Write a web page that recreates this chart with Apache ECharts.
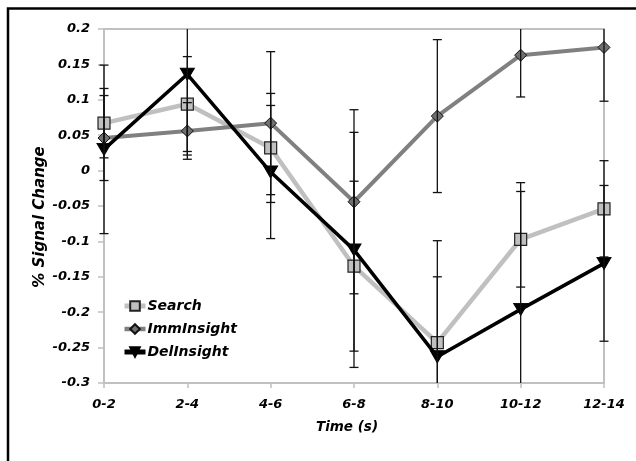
<!DOCTYPE html>
<html>
<head>
<meta charset="utf-8">
<script src="https://cdn.jsdelivr.net/npm/echarts@6/dist/echarts.min.js"></script>
<style>
html,body{margin:0;padding:0;background:#fff;}
#c{width:636px;height:461px;}
</style>
</head>
<body>
<div id="c"></div>
<script>
// ---- data ----
var categories = ['0-2', '2-4', '4-6', '6-8', '8-10', '10-12', '12-14'];
var seriesNames = ['Search', 'ImmInsight', 'DelInsight'];
var searchVals = [0.067, 0.094, 0.032, -0.135, -0.243, -0.097, -0.054];
var searchErr  = [0.049, 0.067, 0.077, 0.120, 0.144, 0.0675, 0.068];
var immVals    = [0.046, 0.056, 0.067, -0.044, 0.077, 0.163, 0.174];
var immErr     = [0.060, 0.040, 0.101, 0.130, 0.108, 0.059, 0.076];
var delVals    = [0.030, 0.136, -0.002, -0.112, -0.263, -0.196, -0.131];
var delErr     = [0.119, 0.114, 0.094, 0.166, 0.113, 0.179, 0.110];
var yMin = -0.3, yMax = 0.2, yInterval = 0.05;
var xAxisTitle = 'Time (s)';
var yAxisTitle = '% Signal Change';

var FONT = '"DejaVu Sans", sans-serif';
var chart = echarts.init(document.getElementById('c'), null, {renderer: 'canvas'});

function errSeries(vals, errs, z) {
  var data = vals.map(function (v, i) { return [i, v - errs[i], v + errs[i]]; });
  return {
    type: 'custom',
    z: z,
    silent: true,
    data: data,
    renderItem: function (params, api) {
      var i = api.value(0);
      var lo = api.value(1), hi = api.value(2);
      var children = [];
      var loC = Math.max(lo, yMin), hiC = Math.min(hi, yMax);
      var p1 = api.coord([i, hiC]);
      var p2 = api.coord([i, loC]);
      var st = {stroke: '#111', lineWidth: 1.3};
      children.push({type: 'line', shape: {x1: p1[0], y1: p1[1], x2: p2[0], y2: p2[1]}, style: st});
      if (hi <= yMax) children.push({type: 'line', shape: {x1: p1[0] - 4.5, y1: p1[1], x2: p1[0] + 4.5, y2: p1[1]}, style: st});
      if (lo >= yMin) children.push({type: 'line', shape: {x1: p2[0] - 4.5, y1: p2[1], x2: p2[0] + 4.5, y2: p2[1]}, style: st});
      return {type: 'group', children: children};
    }
  };
}

var labelStyle = {fontFamily: FONT, fontWeight: 'bold', fontStyle: 'italic', fontSize: 13, color: '#000'};

chart.setOption({
  animation: false,
  backgroundColor: '#fff',
  grid: {left: 104, right: 32, top: 29, bottom: 78, show: true, borderColor: '#c0c0c0', borderWidth: 2},
  legend: {
    orient: 'vertical', left: 117, top: 294,
    itemWidth: 21, itemHeight: 12, itemGap: 9,
    data: [
      {name: 'Search', lineStyle: {width: 5, color: '#c0c0c0'}},
      {name: 'ImmInsight', lineStyle: {width: 4.5, color: '#808080'}},
      {name: 'DelInsight', lineStyle: {width: 5, color: '#000'}}
    ],
    textStyle: {fontFamily: FONT, fontWeight: 'bold', fontStyle: 'italic', fontSize: 14, color: '#000', padding: [0, 0, 0, -3]}
  },
  xAxis: {
    type: 'category', data: categories, boundaryGap: false,
    axisLine: {onZero: false, lineStyle: {color: '#c0c0c0', width: 2}},
    axisTick: {show: true, length: 5, lineStyle: {color: '#c0c0c0', width: 1.5}},
    axisLabel: Object.assign({margin: 15}, labelStyle),
    splitLine: {show: false}
  },
  yAxis: {
    type: 'value', min: yMin, max: yMax, interval: yInterval,
    axisLine: {show: true, lineStyle: {color: '#c0c0c0', width: 2}},
    axisTick: {show: true, length: 6, lineStyle: {color: '#c0c0c0', width: 1.5}},
    axisLabel: Object.assign({margin: 14}, labelStyle),
    splitLine: {show: false}
  },
  graphic: [
    {type: 'rect', shape: {x: 8, y: 8.5, width: 1000, height: 1000}, style: {fill: 'none', stroke: '#000', lineWidth: 2.5}, z: 100},
    {type: 'text', x: 347, y: 427, style: {text: xAxisTitle, fontFamily: FONT, fontWeight: 'bold', fontStyle: 'italic', fontSize: 13.5, fill: '#000', align: 'center', verticalAlign: 'middle'}},
    {type: 'text', x: 40, y: 217, rotation: Math.PI / 2, style: {text: yAxisTitle, fontFamily: FONT, fontWeight: 'bold', fontStyle: 'italic', fontSize: 15, fill: '#000', align: 'center', verticalAlign: 'middle'}}
  ],
  series: [
    {
      name: 'Search', type: 'line', data: searchVals, z: 2,
      symbol: 'rect', symbolSize: 12,
      lineStyle: {color: '#c0c0c0', width: 4.5},
      itemStyle: {color: '#c0c0c0', borderColor: '#222', borderWidth: 1.2}
    },
    {
      name: 'ImmInsight', type: 'line', data: immVals, z: 3,
      symbol: 'diamond', symbolSize: [12, 12],
      lineStyle: {color: '#808080', width: 4},
      itemStyle: {color: '#707070', borderColor: '#111', borderWidth: 1}
    },
    {
      name: 'DelInsight', type: 'line', data: delVals, z: 4,
      symbol: 'triangle', symbolSize: [14, 12], symbolRotate: 180,
      lineStyle: {color: '#000', width: 3.5},
      itemStyle: {color: '#000', borderColor: '#000', borderWidth: 1}
    },
    errSeries(searchVals, searchErr, 10),
    errSeries(immVals, immErr, 10),
    errSeries(delVals, delErr, 10)
  ]
});
</script>
</body>
</html>
